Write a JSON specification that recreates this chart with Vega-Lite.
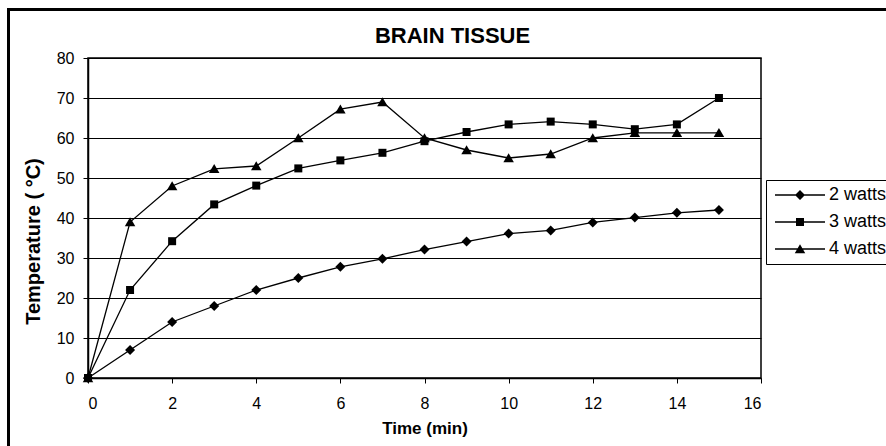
{
  "$schema": "https://vega.github.io/schema/vega-lite/v6.json",
  "autosize": {"type": "none"},
  "padding": {"left": 88, "top": 58, "right": 125, "bottom": 68},
  "width": 673,
  "height": 320,
  "background": "white",
  "title": {"text": "BRAIN TISSUE", "font": "Liberation Sans", "fontSize": 22, "fontWeight": "bold", "color": "black", "anchor": "middle", "frame": "group", "offset": -40, "dx": 28},
  "config": {
    "font": "Liberation Sans",
    "view": {"stroke": "black", "strokeWidth": 1.5}
  },
  "data": {"values": [
    {"series": "2 watts", "time": 0, "temp": 0},
    {"series": "2 watts", "time": 1, "temp": 7},
    {"series": "2 watts", "time": 2, "temp": 14},
    {"series": "2 watts", "time": 3, "temp": 18},
    {"series": "2 watts", "time": 4, "temp": 22},
    {"series": "2 watts", "time": 5, "temp": 25},
    {"series": "2 watts", "time": 6, "temp": 27.8},
    {"series": "2 watts", "time": 7, "temp": 29.8},
    {"series": "2 watts", "time": 8, "temp": 32.1},
    {"series": "2 watts", "time": 9, "temp": 34.1},
    {"series": "2 watts", "time": 10, "temp": 36.1},
    {"series": "2 watts", "time": 11, "temp": 36.9},
    {"series": "2 watts", "time": 12, "temp": 38.9},
    {"series": "2 watts", "time": 13, "temp": 40.1},
    {"series": "2 watts", "time": 14, "temp": 41.3},
    {"series": "2 watts", "time": 15, "temp": 42},
    {"series": "3 watts", "time": 0, "temp": 0},
    {"series": "3 watts", "time": 1, "temp": 22},
    {"series": "3 watts", "time": 2, "temp": 34.2},
    {"series": "3 watts", "time": 3, "temp": 43.4},
    {"series": "3 watts", "time": 4, "temp": 48.1},
    {"series": "3 watts", "time": 5, "temp": 52.4},
    {"series": "3 watts", "time": 6, "temp": 54.4},
    {"series": "3 watts", "time": 7, "temp": 56.3},
    {"series": "3 watts", "time": 8, "temp": 59.2},
    {"series": "3 watts", "time": 9, "temp": 61.5},
    {"series": "3 watts", "time": 10, "temp": 63.4},
    {"series": "3 watts", "time": 11, "temp": 64.1},
    {"series": "3 watts", "time": 12, "temp": 63.4},
    {"series": "3 watts", "time": 13, "temp": 62.2},
    {"series": "3 watts", "time": 14, "temp": 63.4},
    {"series": "3 watts", "time": 15, "temp": 70},
    {"series": "4 watts", "time": 0, "temp": 0},
    {"series": "4 watts", "time": 1, "temp": 39},
    {"series": "4 watts", "time": 2, "temp": 48},
    {"series": "4 watts", "time": 3, "temp": 52.3},
    {"series": "4 watts", "time": 4, "temp": 53},
    {"series": "4 watts", "time": 5, "temp": 60},
    {"series": "4 watts", "time": 6, "temp": 67.2},
    {"series": "4 watts", "time": 7, "temp": 69},
    {"series": "4 watts", "time": 8, "temp": 60},
    {"series": "4 watts", "time": 9, "temp": 57},
    {"series": "4 watts", "time": 10, "temp": 55},
    {"series": "4 watts", "time": 11, "temp": 56},
    {"series": "4 watts", "time": 12, "temp": 60},
    {"series": "4 watts", "time": 13, "temp": 61.3},
    {"series": "4 watts", "time": 14, "temp": 61.3},
    {"series": "4 watts", "time": 15, "temp": 61.3}
  ]},
  "encoding": {
    "x": {"field": "time", "type": "quantitative", "scale": {"domain": [0, 16], "nice": false}, "axis": {"title": "Time (min)", "values": [0, 2, 4, 6, 8, 10, 12, 14, 16], "grid": false, "domainWidth": 1.5, "domainColor": "black", "tickColor": "black", "tickSize": 5, "labelFont": "Liberation Sans", "labelFontSize": 16, "labelColor": "black", "labelPadding": 12, "titleFont": "Liberation Sans", "titleFontSize": 17, "titleFontWeight": "bold", "titleColor": "black", "titlePadding": 9}},
    "y": {"field": "temp", "type": "quantitative", "scale": {"domain": [0, 80], "nice": false}, "axis": {"title": "Temperature (  °C)", "values": [0, 10, 20, 30, 40, 50, 60, 70, 80], "grid": true, "gridColor": "black", "gridWidth": 1, "gridOpacity": 1, "domainWidth": 1.5, "domainColor": "black", "tickColor": "black", "tickSize": 5, "labelFont": "Liberation Sans", "labelFontSize": 16, "labelColor": "black", "labelPadding": 9, "titleFont": "Liberation Sans", "titleFontSize": 20, "titleFontWeight": "bold", "titleColor": "black", "titlePadding": 13, "titleY": 183}}
  },
  "layer": [
    {
      "mark": {"type": "rect", "fill": null, "stroke": "black", "strokeWidth": 2, "clip": false},
      "encoding": {
        "x": {"datum": -1.9},
        "x2": {"datum": 20},
        "y": {"datum": 92.2},
        "y2": {"datum": -30}
      }
    },
    {
      "mark": {"type": "line", "color": "black", "strokeWidth": 1.3},
      "encoding": {"detail": {"field": "series"}}
    },
    {
      "mark": {"type": "point", "filled": true, "color": "black", "opacity": 1, "size": 100},
      "encoding": {
        "shape": {
          "field": "series",
          "type": "nominal",
          "scale": {"domain": ["2 watts", "3 watts", "4 watts"], "range": ["M0,-1L1,0L0,1L-1,0Z", "M-0.8,-0.8H0.8V0.8H-0.8Z", "M0,-0.95L1.05,0.85L-1.05,0.85Z"]},
          "legend": null
        }
      }
    },
    {
      "transform": [{"filter": "false"}],
      "mark": {"type": "point", "filled": true, "fill": "black", "opacity": 1},
      "encoding": {
        "shape": {
          "field": "series",
          "type": "nominal",
          "scale": {"domain": ["2 watts", "3 watts", "4 watts"], "range": ["M-5,-0.13H5V0.13H-5ZM0,-1L1,0L0,1L-1,0Z", "M-5,-0.13H5V0.13H-5ZM-0.8,-0.8H0.8V0.8H-0.8Z", "M-5,-0.13H5V0.13H-5ZM0,-0.95L1.05,0.85L-1.05,0.85Z"]},
          "legend": {
            "title": null,
            "orient": "none",
            "legendX": 678,
            "legendY": 122,
            "strokeColor": "black",
            "fillColor": "white",
            "padding": 6,
            "rowPadding": 9,
            "labelFont": "Liberation Sans",
            "labelFontSize": 18,
            "labelColor": "black",
            "labelOffset": 20,
            "symbolOffset": 19,
            "symbolSize": 100,
            "symbolFillColor": "black",
            "symbolStrokeColor": "black",
            "symbolStrokeWidth": 1
          }
        }
      }
    }
  ],
  "resolve": {"scale": {"shape": "independent"}, "legend": {"shape": "independent"}}
}
